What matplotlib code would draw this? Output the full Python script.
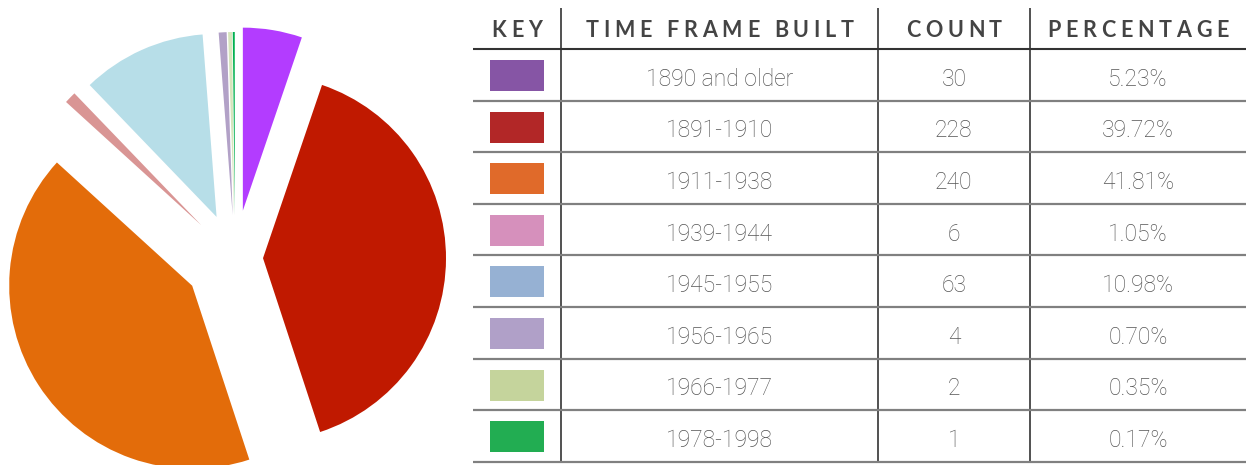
import matplotlib
matplotlib.use('Agg')
import matplotlib.pyplot as plt
from matplotlib.patches import Rectangle
from matplotlib.font_manager import FontProperties, findfont
from matplotlib.ft2font import FT2Font

# Data
periods = ['1890 and older', '1891-1910', '1911-1938', '1939-1944',
           '1945-1955', '1956-1965', '1966-1977', '1978-1998']
counts = [30, 228, 240, 6, 63, 4, 2, 1]
percentages = ['5.23%', '39.72%', '41.81%', '1.05%', '10.98%', '0.70%', '0.35%', '0.17%']
headers = ['KEY', 'TIME FRAME BUILT', 'COUNT', 'PERCENTAGE']

pie_colors = ['#b33cff', '#c01900', '#e36c0a', '#d99594',
              '#b7dee8', '#b2a1c7', '#d7e4bc', '#00b050']
key_colors = ['#8655a5', '#b22727', '#e06a2a', '#d690bc',
              '#96b1d3', '#b0a0c8', '#c5d49c', '#22ad52']

W, H = 1246, 465
fig = plt.figure(figsize=(W / 100, H / 100), dpi=100)

# --- pie (pixel-like data coords, y up) ---
ax_pie = fig.add_axes([0, 0, 470 / W, 1])
explode = [48, 28, 51, 47, 45, 43, 43, 43]
ax_pie.pie(counts, colors=pie_colors, explode=explode, radius=183,
           center=(235, -258), startangle=90, counterclock=False,
           wedgeprops=dict(linewidth=0, antialiased=True))
ax_pie.set_xlim(0, 470)
ax_pie.set_ylim(-465, 0)
ax_pie.set_aspect('equal')
ax_pie.axis('off')

# --- table (pixel coords, y down) ---
ax = fig.add_axes([0, 0, 1, 1])
ax.set_xlim(0, W)
ax.set_ylim(H, 0)
ax.axis('off')
ax.patch.set_alpha(0)

col_edges = [473, 561, 878, 1030, W]
top, header_bottom, row_h = 8, 49, 51.6
n = len(periods)
bottom = header_bottom + n * row_h

ax.vlines(col_edges[1:4], top, bottom, color='#333333', lw=1.2)
ax.hlines(header_bottom, col_edges[0], W, color='#333333', lw=1.5)
for i in range(1, n + 1):
    ax.hlines(header_bottom + i * row_h, col_edges[0], W, color='#808080', lw=1.6)

# letter-spaced header
hdr_size = 15.5
hdr_prop = FontProperties(family='Lato', weight='bold', size=hdr_size)
ft = FT2Font(findfont(hdr_prop))
ft.set_size(hdr_size, 72)
px = 100 / 72
tracking = 0.22 * hdr_size * px


def spaced(cx, y, s):
    adv = [ft.load_char(ord(c)).linearHoriAdvance / 65536 * px for c in s]
    total = sum(adv) + tracking * (len(s) - 1)
    x = cx - total / 2
    for c, a in zip(s, adv):
        if c != ' ':
            ax.text(x + a / 2, y, c, ha='center', va='baseline',
                    fontproperties=hdr_prop, color='#444444')
        x += a + tracking


for j, h in enumerate(headers):
    spaced((col_edges[j] + col_edges[j + 1]) / 2, 37, h)

body = dict(family='Roboto', weight='light', size=16.5, color='#555555',
            ha='center', va='baseline')
for i in range(n):
    y0 = header_bottom + i * row_h
    ax.add_patch(Rectangle((490, y0 + 11), 54, 31, color=key_colors[i], lw=0))
    base = y0 + row_h / 2 + 11
    ax.text((col_edges[1] + col_edges[2]) / 2, base, periods[i], **body)
    ax.text((col_edges[2] + col_edges[3]) / 2, base, str(counts[i]), **body)
    ax.text((col_edges[3] + col_edges[4]) / 2, base, percentages[i], **body)

fig.savefig('out.png', dpi=100, facecolor='white')
